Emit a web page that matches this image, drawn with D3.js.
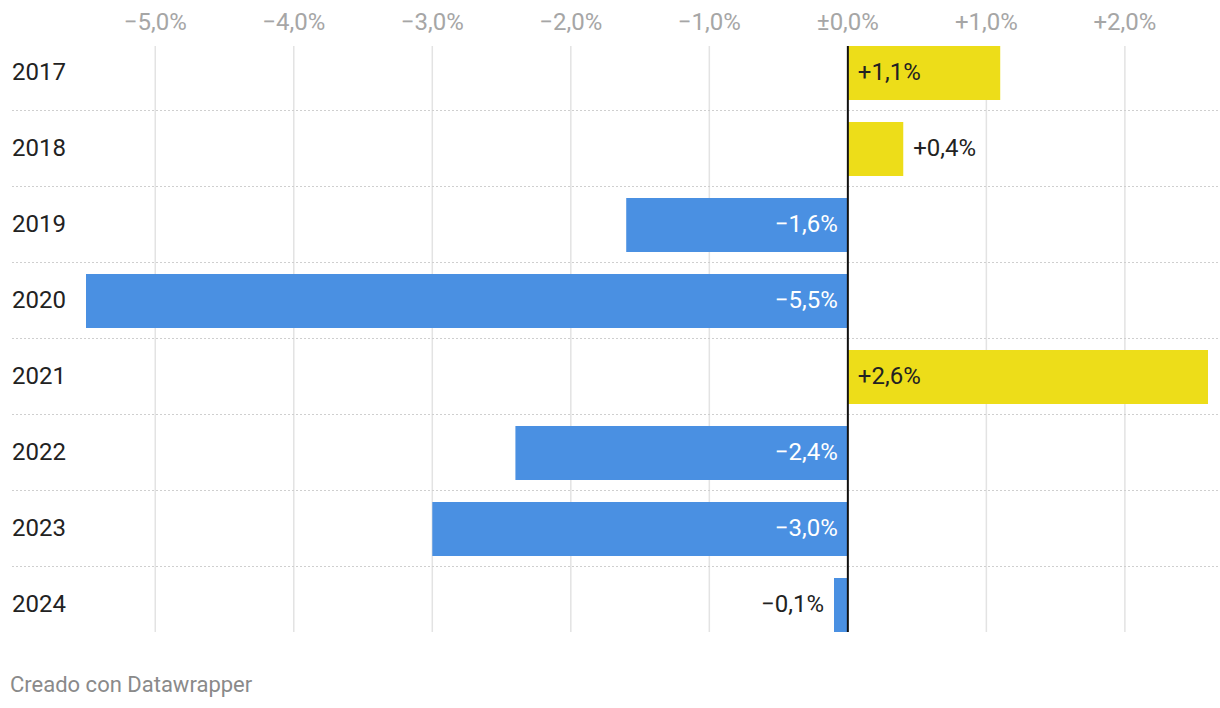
<!DOCTYPE html>
<html lang="es">
<head>
<meta charset="utf-8">
<script src="https://d3js.org/d3.v7.min.js"></script>
<style>
  body { margin: 0; background: #fff; font-family: Roboto, "Noto Sans", sans-serif; }
</style>
</head>
<body>
<svg id="main" width="1220" height="708"></svg>
<script>
// data
const years = ['2017','2018','2019','2020','2021','2022','2023','2024'];
const values = [1.1, 0.4, -1.6, -5.5, 2.6, -2.4, -3.0, -0.1];
const ticks = [-5, -4, -3, -2, -1, 0, 1, 2];

const svg = d3.select('svg#main');

const x = d3.scaleLinear().domain([-5.5, 2.6]).range([86, 1208]);
const y = d3.scaleBand().domain(years).range([46, 632]).paddingInner(22 / 76).paddingOuter(0);

function fmt(v) {
  const s = Math.abs(v).toFixed(1).replace('.', ',');
  if (v === 0) return '\u00b10,0%';
  return (v > 0 ? '+' : '\u2212') + s + '%';
}

// gridlines
svg.append('g').selectAll('line').data(ticks.filter(t => t !== 0)).enter().append('line')
  .attr('x1', d => x(d)).attr('x2', d => x(d))
  .attr('y1', 46).attr('y2', 632)
  .attr('stroke', '#e3e3e3').attr('stroke-width', 1.5);

// tick labels
svg.append('g').selectAll('text').data(ticks).enter().append('text')
  .attr('x', d => x(d)).attr('y', 30)
  .attr('text-anchor', 'middle')
  .attr('font-size', 24).attr('fill', '#a6a6a6')
  .text(d => fmt(d));

// row separators
svg.append('g').selectAll('line').data(years.slice(0, -1)).enter().append('line')
  .attr('x1', 12).attr('x2', 1220)
  .attr('y1', d => y(d) + y.bandwidth() + 10.5).attr('y2', d => y(d) + y.bandwidth() + 10.5)
  .attr('stroke', '#cfcfcf').attr('stroke-width', 1).attr('stroke-dasharray', '2,2');

const rows = years.map((yr, i) => ({ yr, v: values[i] }));

// bars
svg.append('g').selectAll('rect').data(rows).enter().append('rect')
  .attr('x', d => x(Math.min(0, d.v)))
  .attr('width', d => Math.abs(x(d.v) - x(0)))
  .attr('y', d => y(d.yr)).attr('height', y.bandwidth())
  .attr('fill', d => d.v < 0 ? '#4a90e2' : '#eddd19');

// zero line
svg.append('line')
  .attr('x1', x(0)).attr('x2', x(0)).attr('y1', 46).attr('y2', 632)
  .attr('stroke', '#111').attr('stroke-width', 2);

// year labels
svg.append('g').selectAll('text').data(years).enter().append('text')
  .attr('x', 12).attr('y', d => y(d) + y.bandwidth() / 2 + 7)
  .attr('font-size', 24).attr('fill', '#222')
  .text(d => d);

// value labels
svg.append('g').selectAll('text').data(rows).enter().append('text')
  .each(function (d) {
    const w = Math.abs(x(d.v) - x(0));
    const inside = w > 90;
    const t = d3.select(this);
    let px, anchor, col;
    if (d.v >= 0) {
      px = inside ? x(0) + 10 : x(d.v) + 10;
      anchor = 'start';
      col = '#222';
    } else {
      px = inside ? x(0) - 10 : x(d.v) - 10;
      anchor = 'end';
      col = inside ? '#fff' : '#222';
    }
    t.attr('x', px).attr('text-anchor', anchor).attr('fill', col);
  })
  .attr('y', d => y(d.yr) + y.bandwidth() / 2 + 7)
  .attr('font-size', 24)
  .text(d => fmt(d.v));

// footer
svg.append('text')
  .attr('x', 10).attr('y', 692)
  .attr('font-size', 22).attr('fill', '#8a8a8a')
  .text('Creado con Datawrapper');
</script>
</body>
</html>
